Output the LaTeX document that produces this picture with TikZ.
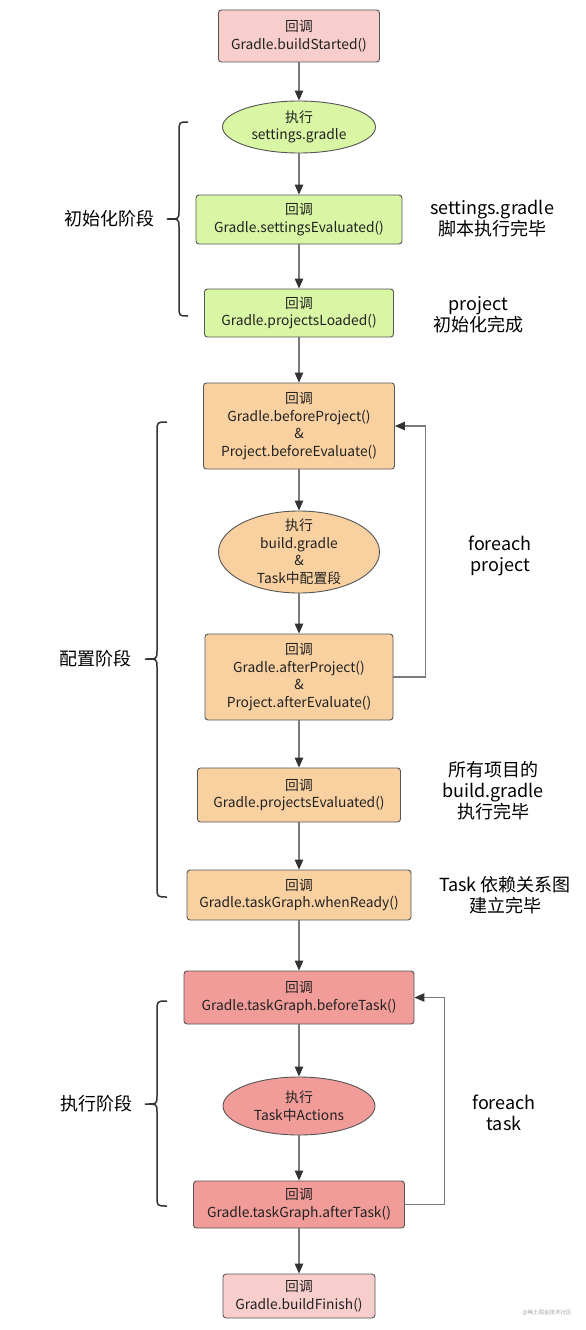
\documentclass[tikz,border=0pt]{standalone}
\usepackage{fontspec}
\setmainfont{Noto Sans CJK SC}
\usetikzlibrary{arrows.meta,shapes.geometric}
\definecolor{pinkL}{HTML}{F8CECC}
\definecolor{greenL}{HTML}{D8F6A4}
\definecolor{orangeL}{HTML}{F9D1A1}
\definecolor{redM}{HTML}{F19C99}
\definecolor{bordc}{HTML}{555555}
\definecolor{linec}{HTML}{7A7A7A}
\definecolor{headc}{HTML}{333333}
\definecolor{txtc}{HTML}{222222}
\newcommand\boxfont{\fontsize{13.8}{17.5}\selectfont}
\newcommand\sidefont{\fontsize{18}{21}\selectfont}
\begin{document}
\begin{tikzpicture}[x=1pt,y=-1pt,
  box/.style={draw=bordc, line width=0.9pt, rounded corners=3pt, align=center, inner sep=0pt, font=\boxfont, text=txtc},
  ell/.style={draw=bordc, line width=0.9pt, ellipse, inner sep=0pt},
  etext/.style={align=center, inner sep=0pt, font=\boxfont, text=txtc},
  side/.style={align=center, inner sep=0pt, font=\sidefont, text=black},
  arr/.style={draw=linec, line width=1.1pt, -{Triangle[length=10pt,width=8.5pt,color=headc]}},
  loopc/.style={draw=linec, line width=1.1pt, rounded corners=0pt, -{Triangle[length=10pt,width=8.5pt,color=headc]}},
  bracec/.style={draw=headc, line width=1.5pt}
]
\useasboundingbox (0,0) rectangle (586,1330);
\fill[white] (0,0) rectangle (586,1330);

% nodes
\node[box, fill=pinkL, minimum width=161pt, minimum height=52pt] (n1) at (299,36) {回调\\Gradle.buildStarted()};
\node[ell, fill=greenL, minimum width=153pt, minimum height=52pt] (n2) at (299,127) {};
\node[etext] (n2t) at (n2) {执行\\settings.gradle};
\node[box, fill=greenL, minimum width=206pt, minimum height=49pt] (n3) at (299,219.5) {回调\\Gradle.settingsEvaluated()};
\node[box, fill=greenL, minimum width=189pt, minimum height=48pt] (n4) at (299,313) {回调\\Gradle.projectsLoaded()};
\node[box, fill=orangeL, minimum width=191pt, minimum height=86pt] (n5) at (299,426) {回调\\Gradle.beforeProject()\\\&\\Project.beforeEvaluate()};
\node[ell, fill=orangeL, minimum width=161pt, minimum height=82pt] (n6) at (299,552) {};
\node[etext] (n6t) at (n6) {执行\\build.gradle\\\&\\Task中配置段};
\node[box, fill=orangeL, minimum width=188pt, minimum height=86pt] (n7) at (299,677) {回调\\Gradle.afterProject()\\\&\\Project.afterEvaluate()};
\node[box, fill=orangeL, minimum width=203pt, minimum height=54pt] (n8) at (299,795) {回调\\Gradle.projectsEvaluated()};
\node[box, fill=orangeL, minimum width=224pt, minimum height=50pt] (n9) at (299,895) {回调\\Gradle.taskGraph.whenReady()};
\node[box, fill=redM, minimum width=230pt, minimum height=53pt] (n10) at (299,997.5) {回调\\Gradle.taskGraph.beforeTask()};
\node[ell, fill=redM, minimum width=152pt, minimum height=58pt] (n11) at (299,1106) {};
\node[etext] (n11t) at (n11) {执行\\Task中Actions};
\node[box, fill=redM, minimum width=211pt, minimum height=47pt] (n12) at (299,1204.5) {回调\\Gradle.taskGraph.afterTask()};
\node[box, fill=pinkL, minimum width=152pt, minimum height=44pt] (n13) at (299,1296) {回调\\Gradle.buildFinish()};

% connectors
\draw[arr] (n1) -- (n2);
\draw[arr] (n2) -- (n3);
\draw[arr] (n3) -- (n4);
\draw[arr] (n4) -- (n5);
\draw[arr] (n5) -- (n6);
\draw[arr] (n6) -- (n7);
\draw[arr] (n7) -- (n8);
\draw[arr] (n8) -- (n9);
\draw[arr] (n9) -- (n10);
\draw[arr] (n10) -- (n11);
\draw[arr] (n11) -- (n12);
\draw[arr] (n12) -- (n13);
\draw[loopc] (n7.east) -- ++(32,0) |- (n5.east);
\draw[loopc] (n12.east) -- ++(39.5,0) |- (n10.east);

% braces
\draw[bracec] (188,122) .. controls (179,122) .. (179,132) -- (179,211) .. controls (179,219) .. (167,219) .. controls (179,219) .. (179,227) -- (179,306) .. controls (179,316) .. (188,316);
\draw[bracec] (167,422) .. controls (157,422) .. (157,432) -- (157,651) .. controls (157,659) .. (145,659) .. controls (157,659) .. (157,667) -- (157,887) .. controls (157,897) .. (167,897);
\draw[bracec] (167,1001) .. controls (157,1001) .. (157,1011) -- (157,1096) .. controls (157,1104) .. (145,1104) .. controls (157,1104) .. (157,1112) -- (157,1196) .. controls (157,1206) .. (167,1206);

% side labels
\node[side] (s1) at (109,219) {初始化阶段};
\node[side] (s2) at (95,659) {配置阶段};
\node[side] (s3) at (96,1104) {执行阶段};
\node[side] (r1) at (492,219) {settings.gradle\\脚本执行完毕};
\node[side] (r2) at (478,314.5) {project\\初始化完成};
\node[side] (r3) at (500,556) {foreach\\project};
\node[side] (r4) at (493,791) {所有项目的\\build.gradle\\执行完毕};
\node[side] (r5) at (505,895) {Task 依赖关系图\\建立完毕};
\node[side] (r6) at (504,1113) {foreach\\task};
\node[inner sep=0pt, font=\fontsize{5.5}{6}\selectfont, text=gray!70] (wm) at (547,1313) {@稀土掘金技术社区};
\end{tikzpicture}
\end{document}
